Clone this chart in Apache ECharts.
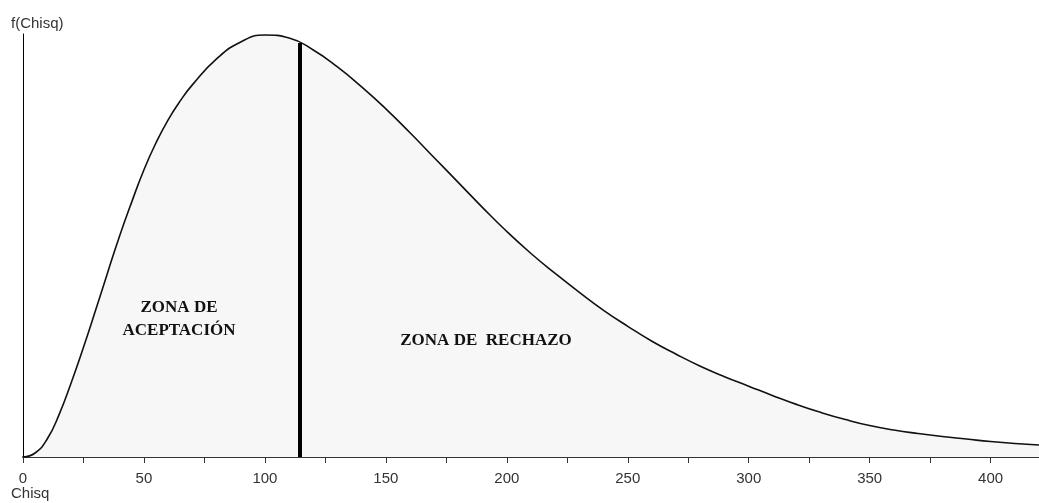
<!DOCTYPE html>
<html>
<head>
<meta charset="utf-8">
<script src="https://cdn.jsdelivr.net/npm/echarts@6/dist/echarts.min.js"></script>
<style>
html,body{margin:0;padding:0;background:#fff;}
#chart{width:1039px;height:503px;}
</style>
</head>
<body>
<div id="chart"></div>
<script>
// Data
const chisqX  = [0,5,10,15,20,25,30,35,40,45,50,55,60,65,70,80,90,100,110,120,130,140,150,160,170,180,190,200,210,220,230,240,250,260,270,280,290,300,310,320,330,340,350,360,370,380,390,400,410,420];
const density = [0,4,18,43,75,110,147,185,222,256,288,315,338,357,373,399,416,423,420,408,391,371,349,325,300,275,250,226,204,184,165,147,131,116,103,91,80.5,71,61.5,52.5,44.5,37.5,31.5,27,23.5,20.5,18,15.5,13.5,12];
const critical = [114.3, 415];
const xTicks = [0,50,100,150,200,250,300,350,400];
const yAxisTitle = 'f(Chisq)';
const xAxisTitle = 'Chisq';
const zoneAccept = 'ZONA DE\nACEPTACIÓN';
const zoneReject = 'ZONA DE  RECHAZO';

const points = chisqX.map((x, i) => [x, density[i]]);
const sans = "'Liberation Sans',Arial,sans-serif";
const serif = "'Liberation Serif','Times New Roman',serif";

const chart = echarts.init(document.getElementById('chart'));
chart.setOption({
  animation: false,
  backgroundColor: '#ffffff',
  grid: {left: 23, right: 0, top: 34, bottom: 46, containLabel: false},
  xAxis: {
    type: 'value', min: 0, max: 420, interval: 25,
    axisLine: {show: true, onZero: false, lineStyle: {color: '#333', width: 2}},
    axisTick: {show: true, length: 6, lineStyle: {color: '#333', width: 1}},
    splitLine: {show: false},
    axisLabel: {
      margin: 14, fontSize: 15, color: '#333', fontFamily: sans,
      showMaxLabel: false,
      formatter: v => xTicks.includes(v) ? String(v) : ''
    }
  },
  yAxis: {
    type: 'value', min: 0, max: 424,
    axisLine: {show: true, lineStyle: {color: '#000', width: 1}},
    axisTick: {show: false}, axisLabel: {show: false}, splitLine: {show: false}
  },
  series: [{
    type: 'line', data: points, smooth: 0.5, symbol: 'none',
    lineStyle: {color: '#111', width: 1.6},
    areaStyle: {color: '#f7f7f7', opacity: 1},
    markLine: {
      silent: true, symbol: 'none', label: {show: false},
      lineStyle: {color: '#000', width: 4, type: 'solid'},
      data: [[{coord: [critical[0], 0]}, {coord: [critical[0], critical[1]]}]]
    },
    z: 2
  }],
  graphic: [
    {type: 'text', left: 11, top: 16, style: {text: yAxisTitle, font: '15px ' + sans, fill: '#333'}},
    {type: 'text', left: 11, top: 486, style: {text: xAxisTitle, font: '15px ' + sans, fill: '#333'}},
    {type: 'text', x: 179, y: 319, style: {text: zoneAccept, font: 'bold 17px ' + serif, fill: '#111', align: 'center', verticalAlign: 'middle', lineHeight: 23}, z: 10},
    {type: 'text', x: 486, y: 341, style: {text: zoneReject, font: 'bold 17px ' + serif, fill: '#111', align: 'center', verticalAlign: 'middle'}, z: 10}
  ]
});
</script>
</body>
</html>
